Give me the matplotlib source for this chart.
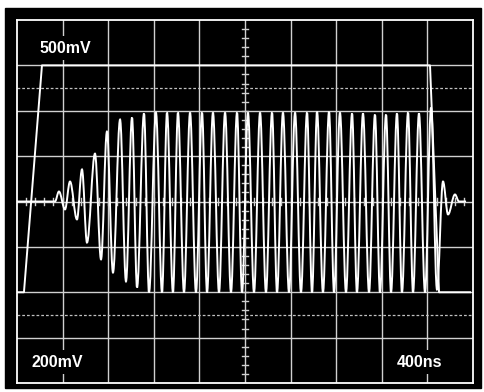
import numpy as np
import matplotlib.pyplot as plt
from matplotlib.patches import Rectangle, PathPatch
from matplotlib.path import Path

# scope settings
ns_per_div = 400
ch1_mv_per_div = 500
ch2_mv_per_div = 200

# channel 1 : gate pulse (time in ns from left edge, level in mV)
ch1_t = [0, 61, 219, 3623, 3702, 3974]
ch1_mv = [-1000, -1000, 1500, 1500, -1000, -1000]

# channel 2 : burst, peaks and troughs
ch2_lead_t = [0, 333]
ch2_lead_mv = [0, 0]

ch2_peak_t = [368, 465, 570, 684, 789, 904, 1009, 1114, 1219, 1316, 1412,
              1518, 1623, 1719, 1825, 1930, 2026, 2132, 2237, 2333, 2439,
              2544, 2632, 2737, 2833, 2939, 3035, 3140, 3237, 3333, 3430,
              3526, 3632]
ch2_peak_mv = [44, 88, 141, 211, 308, 361, 370, 388, 392, 392, 392,
               392, 392, 392, 392, 392, 392, 392, 392, 392, 392,
               392, 396, 396, 392, 388, 388, 383, 383, 388, 392,
               388, 414]

ch2_trough_t = [421, 526, 614, 737, 842, 956, 1053, 1158, 1272, 1368, 1465,
                1570, 1667, 1772, 1877, 1974, 2079, 2184, 2281, 2386, 2491,
                2588, 2684, 2781, 2886, 2982, 3088, 3184, 3281, 3377, 3474,
                3579, 3684]
ch2_trough_mv = [-35, -79, -181, -255, -313, -352, -379, -401, -401, -401, -401,
                 -401, -401, -401, -401, -401, -401, -401, -401, -401, -401,
                 -401, -401, -401, -401, -401, -401, -401, -401, -401, -401,
                 -401, -388]

ch2_tail_t = [3737, 3781, 3842, 3877, 3939]
ch2_tail_mv = [88, -57, 31, 0, 0]

# join burst and ringing extremes into one sequence (in divisions)
burst_t = np.ravel(np.column_stack([ch2_peak_t, ch2_trough_t]))
burst_mv = np.ravel(np.column_stack([ch2_peak_mv, ch2_trough_mv]))
ext_x = np.concatenate([[ch2_lead_t[-1]], burst_t, ch2_tail_t]) / ns_per_div
ext_y = np.concatenate([[ch2_lead_mv[-1]], burst_mv, ch2_tail_mv]) / ch2_mv_per_div

# smooth curve between extremes: bezier segments with flat tangents
verts = [(ch2_lead_t[0] / ns_per_div, ch2_lead_mv[0] / ch2_mv_per_div),
         (ext_x[0], ext_y[0])]
codes = [Path.MOVETO, Path.LINETO]
for k in range(1, len(ext_x)):
    h = 0.36 * (ext_x[k] - ext_x[k - 1])
    verts += [(ext_x[k - 1] + h, ext_y[k - 1]), (ext_x[k] - h, ext_y[k]),
              (ext_x[k], ext_y[k])]
    codes += [Path.CURVE4] * 3

fig = plt.figure(figsize=(4.84, 3.92), dpi=100)
fig.patch.set_facecolor('white')
# black screen bezel
fig.patches.append(Rectangle((5 / 484, 4 / 392), 476 / 484, 380 / 392,
                             transform=fig.transFigure, color='black', zorder=-10))

ax = fig.add_axes([17 / 484, 9 / 392, 456 / 484, 363 / 392])
ax.set_facecolor('black')
ax.set_xlim(0, 10)
ax.set_ylim(-4, 4)
ax.set_xticks([])
ax.set_yticks([])
for s in ax.spines.values():
    s.set_color('white')
    s.set_linewidth(1.3)

# graticule
for i in range(1, 10):
    ax.axvline(i, color='#d0d0d0', lw=1.0, zorder=1)
for j in range(-3, 4):
    ax.axhline(j, color='#d0d0d0', lw=1.0, zorder=1)
for j in [-2.5, 2.5]:
    ax.axhline(j, color='#c0c0c0', lw=0.9, ls=(0, (2.2, 1.6)), zorder=1)

# minor ticks on the centre lines
for x in np.arange(0.2, 10, 0.2):
    ax.plot([x, x], [-0.07, 0.07], color='#d0d0d0', lw=1.0, zorder=1)
for y in np.arange(-3.8, 4, 0.2):
    ax.plot([4.93, 5.07], [y, y], color='#d0d0d0', lw=1.0, zorder=1)

# traces
ax.plot(np.array(ch1_t) / ns_per_div, np.array(ch1_mv) / ch1_mv_per_div,
        color='white', lw=1.4, zorder=3)
ax.add_patch(PathPatch(Path(verts, codes), facecolor='none', edgecolor='white',
                       lw=1.4, zorder=3))

# readouts
box = dict(facecolor='black', edgecolor='none', pad=3.5)
ax.text(1.05, 3.38, '500mV', color='white', fontsize=11.5, fontweight='bold',
        family='Liberation Sans', ha='center', va='center', bbox=box, zorder=5)
ax.text(0.89, -3.54, '200mV', color='white', fontsize=11.5, fontweight='bold',
        family='Liberation Sans', ha='center', va='center', bbox=box, zorder=5)
ax.text(8.83, -3.54, '400ns', color='white', fontsize=11.5, fontweight='bold',
        family='Liberation Sans', ha='center', va='center', bbox=box, zorder=5)

fig.savefig('out.png', dpi=100)
